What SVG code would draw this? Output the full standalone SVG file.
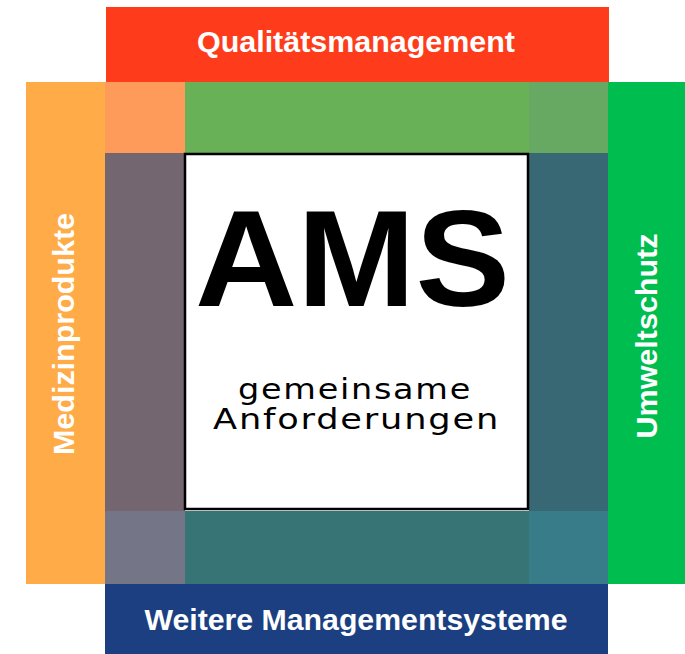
<svg xmlns="http://www.w3.org/2000/svg" width="685" height="654" viewBox="0 0 685 654">
<style>
.lbl{font-family:"Liberation Sans",Arial,sans-serif;font-weight:bold;font-size:29px;fill:#ffffff;text-anchor:middle}
.sub{font-family:"DejaVu Sans","Liberation Sans",sans-serif;font-size:29px;fill:#000000;text-anchor:middle;letter-spacing:1.5px}
</style>
<rect width="685" height="654" fill="#ffffff"/>
<g id="qualitaetsmanagement">
<rect x="106" y="7" width="503" height="75" fill="#FE3C1C"/>
<text class="lbl" x="356" y="52" textLength="318" lengthAdjust="spacingAndGlyphs">Qualitätsmanagement</text>
</g>
<g id="medizinprodukte">
<rect x="26" y="82" width="79" height="502" fill="#FEAB48"/>
<text class="lbl" transform="translate(74,334) rotate(-90)" x="0" y="0" textLength="242" lengthAdjust="spacingAndGlyphs">Medizinprodukte</text>
</g>
<g id="umweltschutz">
<rect x="608" y="82" width="77" height="502" fill="#00BD50"/>
<text class="lbl" transform="translate(657,336) rotate(-90)" x="0" y="0" textLength="205" lengthAdjust="spacingAndGlyphs">Umweltschutz</text>
</g>
<g id="weitere-managementsysteme">
<rect x="105" y="584" width="503" height="70" fill="#1B3F80"/>
<text class="lbl" x="356" y="630" textLength="423" lengthAdjust="spacingAndGlyphs">Weitere Managementsysteme</text>
</g>
<g id="overlaps">
<rect x="105" y="82" width="80" height="71" fill="#FE9A5A"/>
<rect x="185" y="82" width="344" height="71" fill="#68B157"/>
<rect x="529" y="82" width="79" height="71" fill="#67A862"/>
<rect x="105" y="153" width="80" height="358" fill="#736670"/>
<rect x="529" y="153" width="79" height="358" fill="#386873"/>
<rect x="105" y="511" width="80" height="73" fill="#747688"/>
<rect x="185" y="511" width="344" height="73" fill="#377475"/>
<rect x="529" y="511" width="79" height="73" fill="#387C89"/>
</g>
<g id="ams">
<rect x="185" y="154" width="343" height="355" fill="#ffffff" stroke="#000000" stroke-width="2.5"/>
<text x="352.5" y="306" font-family="Liberation Sans, Arial, sans-serif" font-weight="bold" font-size="138" fill="#000000" text-anchor="middle" textLength="315" lengthAdjust="spacingAndGlyphs">AMS</text>
<text class="sub" x="355" y="399" textLength="234" lengthAdjust="spacingAndGlyphs">gemeinsame</text>
<text class="sub" x="356.5" y="429" textLength="287" lengthAdjust="spacingAndGlyphs">Anforderungen</text>
</g>
</svg>
